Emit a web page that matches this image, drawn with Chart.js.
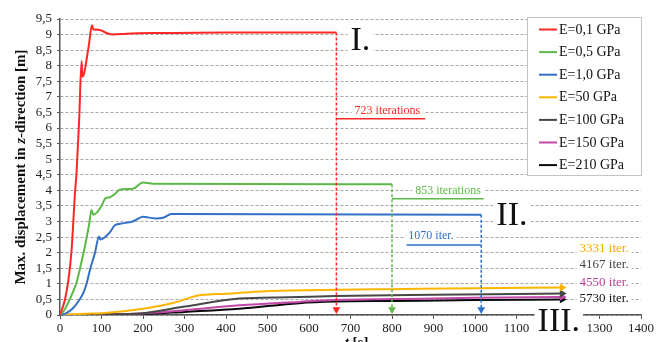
<!DOCTYPE html>
<html>
<head>
<meta charset="utf-8">
<script src="https://cdn.jsdelivr.net/npm/chart.js@4.4.0/dist/chart.umd.min.js"></script>
<style>
  html, body { margin: 0; padding: 0; background: #fff; overflow: hidden; }
</style>
</head>
<body>
<canvas id="myChart" width="656" height="352"></canvas>
<script>
/* ---------- datos ---------- */
const seriesLabels = ['E=0,1 GPa', 'E=0,5 GPa', 'E=1,0 GPa', 'E=50 GPa', 'E=100 GPa', 'E=150 GPa', 'E=210 GPa'];
const seriesColors = ['#ff2626', '#5db947', '#3170c6', '#ffb400', '#474747', '#c247a8', '#0a0a0a'];

const tE01 = [0, 12, 20, 28, 36, 40, 46, 52, 54, 58, 64, 70, 77, 80, 96, 112, 128, 160, 250, 400, 666];
const zE01 = [0, 0.5, 1.1, 2.1, 3.9, 4.6, 6.2, 8.15, 7.65, 7.75, 8.2, 8.7, 9.3, 9.17, 9.15, 9.05, 9.0, 9.03, 9.05, 9.07, 9.07];

const tE05 = [0, 10, 20, 30, 40, 50, 60, 70, 76, 80, 90, 100, 110, 120, 132, 145, 175, 200, 230, 800];
const zE05 = [0, 0.15, 0.4, 0.7, 1.05, 1.6, 2.2, 2.9, 3.37, 3.22, 3.3, 3.5, 3.75, 3.78, 3.88, 4.03, 4.05, 4.25, 4.21, 4.2];

const tE10 = [0, 15, 30, 45, 56, 64, 72, 84, 94, 97, 110, 120, 132, 145, 175, 200, 230, 250, 268, 1015];
const zE10 = [0, 0.06, 0.2, 0.45, 0.7, 1.0, 1.44, 1.98, 2.52, 2.42, 2.52, 2.65, 2.88, 2.93, 3.0, 3.15, 3.1, 3.13, 3.24, 3.22];

const tE50 = [0, 60, 100, 200, 270, 340, 400, 470, 560, 670, 800, 1000, 1210];
const zE50 = [0, 0.04, 0.06, 0.2, 0.38, 0.64, 0.68, 0.75, 0.79, 0.81, 0.83, 0.86, 0.88];

const tE100 = [0, 100, 192, 300, 432, 550, 663, 900, 1210];
const zE100 = [0, 0.02, 0.05, 0.27, 0.53, 0.57, 0.61, 0.65, 0.69];

const tE150 = [0, 100, 200, 300, 432, 576, 663, 800, 1000, 1210];
const zE150 = [0, 0.01, 0.05, 0.15, 0.31, 0.42, 0.48, 0.51, 0.55, 0.58];

const tE210 = [0, 100, 200, 300, 432, 576, 663, 800, 1000, 1210];
const zE210 = [0, 0.01, 0.03, 0.1, 0.2, 0.38, 0.43, 0.45, 0.48, 0.5];

/* flechas verticales (fin de cada caso) */
const arrowT = [666, 800, 1015];
const arrowTop = [9.07, 4.2, 3.22];
const arrowBottom = 0.18;

/* notas de iteraciones */
const noteText = ['723 iterations', '853 iterations', '1070 iter.'];
const noteT0 = [666, 800, 835];
const noteT1 = [880, 1021, 1015];
const noteLineZ = [6.3, 3.73, 2.25];
const noteTextT = [789, 935, 894];
const noteTextZ = [6.55, 4.0, 2.54];

const romanText = ['I.', 'II.', 'III.'];
const romanT = [724, 1089, 1202];
const romanZ = [8.8, 3.17, -0.22];

const iterText = ['3331 iter.', '4167 iter.', '4550 iter.', '5730 iter.'];
const iterColors = ['#f7a800', '#444444', '#b8409a', '#111111'];
const iterT = 1252;
const iterZ = [2.14, 1.62, 1.05, 0.53];

const xTicksMax = 1400;
const yTicksMax = 9.5;

/* ---------- construccion de datasets ---------- */
const toPts = (t, z) => t.map((v, i) => ({x: v, y: z[i]}));
const seriesT = [tE01, tE05, tE10, tE50, tE100, tE150, tE210];
const seriesZ = [zE01, zE05, zE10, zE50, zE100, zE150, zE210];

const datasets = [];

// flechas punteadas
arrowT.forEach((t, i) => {
  datasets.push({
    data: [{x: t, y: arrowTop[i]}, {x: t, y: arrowBottom}],
    borderColor: seriesColors[i],
    backgroundColor: seriesColors[i],
    borderWidth: 1.5,
    borderDash: [3, 2],
    pointStyle: 'triangle',
    pointRotation: 180,
    pointRadius: [0, 4.5],
    pointBorderWidth: 0,
    pointBackgroundColor: seriesColors[i]
  });
  datasets.push({
    data: [{x: noteT0[i], y: noteLineZ[i]}, {x: noteT1[i], y: noteLineZ[i]}],
    borderColor: seriesColors[i],
    borderWidth: 1.5,
    pointRadius: 0
  });
});

// curvas principales
seriesT.forEach((t, i) => {
  const arrowEnd = i >= 3;
  datasets.push({
    label: seriesLabels[i],
    data: toPts(t, seriesZ[i]),
    borderColor: seriesColors[i],
    backgroundColor: seriesColors[i],
    borderWidth: 2,
    cubicInterpolationMode: 'monotone',
    pointStyle: 'triangle',
    pointRotation: 90,
    pointBorderWidth: 0,
    pointBackgroundColor: seriesColors[i],
    pointRadius: c => (arrowEnd && c.dataIndex === c.dataset.data.length - 1) ? 4.5 : 0
  });
});

/* ---------- plugin: leyenda, textos y titulos ---------- */
const SERIF = '"Liberation Serif", "Times New Roman", serif';

function boxText(ctx, text, x, y, font, color, align) {
  ctx.font = font;
  ctx.textAlign = align || 'center';
  ctx.textBaseline = 'middle';
  const w = ctx.measureText(text).width;
  const h = parseFloat(font.match(/(\d+(\.\d+)?)px/)[1]);
  const left = ctx.textAlign === 'left' ? x : x - w / 2;
  ctx.fillStyle = '#fff';
  ctx.fillRect(left - 3, y - h * 0.55, w + 6, h * 1.1);
  ctx.fillStyle = color;
  ctx.fillText(text, x, y);
}

const overlay = {
  id: 'overlay',
  afterDraw(chart) {
    const {ctx, chartArea} = chart;
    const xs = chart.scales.x, ys = chart.scales.y;
    ctx.save();

    // notas de iteraciones
    noteText.forEach((txt, i) => {
      boxText(ctx, txt, xs.getPixelForValue(noteTextT[i]), ys.getPixelForValue(noteTextZ[i]),
        '12px ' + SERIF, seriesColors[i], 'center');
    });
    iterText.forEach((txt, i) => {
      boxText(ctx, txt, xs.getPixelForValue(iterT), ys.getPixelForValue(iterZ[i]),
        '13px ' + SERIF, iterColors[i], 'left');
    });
    romanText.forEach((txt, i) => {
      boxText(ctx, txt, xs.getPixelForValue(romanT[i]), ys.getPixelForValue(romanZ[i]),
        '34px ' + SERIF, '#111', 'center');
    });

    // leyenda
    const lw = 114, lh = 158;
    const lx = chartArea.right - lw, ly = chartArea.top - 2;
    ctx.fillStyle = '#fff';
    ctx.fillRect(lx, ly, lw, lh);
    ctx.setLineDash([1, 1]);
    ctx.strokeStyle = '#888';
    ctx.lineWidth = 1;
    ctx.strokeRect(lx + 0.5, ly + 0.5, lw, lh);
    ctx.setLineDash([]);
    ctx.font = '14px ' + SERIF;
    ctx.textAlign = 'left';
    ctx.textBaseline = 'middle';
    seriesLabels.forEach((lab, i) => {
      const yy = ly + 12.5 + i * 22.6;
      ctx.strokeStyle = seriesColors[i];
      ctx.lineWidth = 2;
      ctx.beginPath();
      ctx.moveTo(lx + 12, yy);
      ctx.lineTo(lx + 30, yy);
      ctx.stroke();
      ctx.fillStyle = '#111';
      ctx.fillText(lab, lx + 32, yy + 0.5);
    });

    // titulo eje y (con z en cursiva)
    const parts = [['Max. displacement in ', 'bold'], ['z', 'bold italic'], ['-direction [m]', 'bold']];
    ctx.save();
    ctx.translate(21, (chartArea.top + chartArea.bottom) / 2);
    ctx.rotate(-Math.PI / 2);
    let total = 0;
    parts.forEach(p => { ctx.font = p[1] + ' 15px ' + SERIF; total += ctx.measureText(p[0]).width; });
    let px = -total / 2;
    ctx.fillStyle = '#111';
    ctx.textAlign = 'left';
    parts.forEach(p => {
      ctx.font = p[1] + ' 15px ' + SERIF;
      ctx.fillText(p[0], px, 0);
      px += ctx.measureText(p[0]).width;
    });
    ctx.restore();

    // titulo eje x
    const xparts = [['t', 'bold italic'], [' [s]', 'bold']];
    let xw = 0;
    xparts.forEach(p => { ctx.font = p[1] + ' 15px ' + SERIF; xw += ctx.measureText(p[0]).width; });
    let qx = (chartArea.left + chartArea.right) / 2 + 6 - xw / 2;
    ctx.textBaseline = 'alphabetic';
    ctx.textAlign = 'left';
    xparts.forEach(p => {
      ctx.font = p[1] + ' 15px ' + SERIF;
      ctx.fillText(p[0], qx, 347);
      qx += ctx.measureText(p[0]).width;
    });

    ctx.restore();
  }
};

/* ---------- grafico ---------- */
const ctx = document.getElementById('myChart');
const chart = new Chart(ctx, {
  type: 'line',
  data: { datasets: datasets },
  options: {
    responsive: false,
    animation: false,
    events: [],
    layout: { padding: { left: 22, right: 0, top: 19, bottom: 0 } },
    plugins: { legend: { display: false }, tooltip: { enabled: false } },
    scales: {
      x: {
        type: 'linear',
        min: 0,
        max: xTicksMax,
        afterFit: s => { s.height = 37; },
        ticks: {
          stepSize: 100, maxRotation: 0, autoSkip: false, color: '#222', padding: 2,
          font: { family: SERIF, size: 13 },
          callback: v => String(v)
        },
        grid: { drawOnChartArea: false, drawTicks: true, tickLength: 4, tickColor: '#555', tickBorderDash: [] },
        border: { color: '#555', width: 1.5 }
      },
      y: {
        min: 0,
        max: yTicksMax,
        afterFit: s => { s.width = 38; },
        ticks: {
          stepSize: 0.5,
          autoSkip: false,
          color: '#222',
          padding: 5,
          font: { family: SERIF, size: 13 },
          callback: v => String(v).replace('.', ',')
        },
        grid: { color: '#a8a8a8', lineWidth: 1, tickLength: 3, tickColor: '#555', tickBorderDash: [] },
        border: { color: '#555', width: 1.5, dash: [3, 2] }
      }
    }
  },
  plugins: [overlay]
});
</script>
</body>
</html>
